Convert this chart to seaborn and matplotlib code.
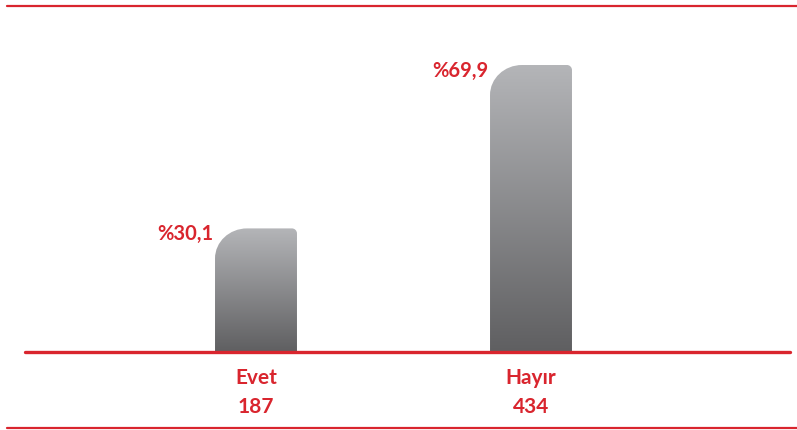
import numpy as np
import matplotlib
matplotlib.use("Agg")
import matplotlib.pyplot as plt
import seaborn as sns
from matplotlib.path import Path
from matplotlib.patches import PathPatch
from matplotlib.lines import Line2D
from matplotlib.colors import LinearSegmentedColormap

# veriler
kategoriler = ["Evet", "Hayır"]
adetler = [187, 434]
yuzdeler = [30.1, 69.9]
yuzde_etiket = ["%30,1", "%69,9"]

KIRMIZI = "#d9252e"
sns.set_style("white")
plt.rcParams["font.family"] = ["Lato", "DejaVu Sans"]

W, H, DPI = 797, 430, 100
fig = plt.figure(figsize=(W / DPI, H / DPI), dpi=DPI)
taban = 78  # piksel, alttan
ax = fig.add_axes([0, taban / H, 1, (H - taban) / H])

sns.barplot(x=kategoriler, y=yuzdeler, width=0.298, color="#888888", ax=ax)

px_x = 275.0  # bir kategori aralığı kaç piksel
px_y = 287 / 69.9
ax.set_xlim(-256 / px_x, (W - 256) / px_x)
ax.set_ylim(0, (H - taban) / px_y)
ax.axis("off")

cmap = LinearSegmentedColormap.from_list("gri", ["#5f5f61", "#b4b5b8"])
gradyan = np.linspace(0, 1, 256).reshape(-1, 1)
k = 0.5523

bars = list(ax.patches)
for i, bar in enumerate(bars):
    x0, y0 = bar.get_x(), 0
    x1, y1 = x0 + bar.get_width(), bar.get_height()
    bar.remove()
    rx1, ry1 = 32 / px_x, 30 / px_y
    rx2, ry2 = 5 / px_x, 5 / px_y
    verts = [
        (x0, y0), (x0, y1 - ry1),
        (x0, y1 - ry1 * (1 - k)), (x0 + rx1 * (1 - k), y1), (x0 + rx1, y1),
        (x1 - rx2, y1),
        (x1 - rx2 * (1 - k), y1), (x1, y1 - ry2 * (1 - k)), (x1, y1 - ry2),
        (x1, y0), (x0, y0),
    ]
    codes = [Path.MOVETO, Path.LINETO, Path.CURVE4, Path.CURVE4, Path.CURVE4,
             Path.LINETO, Path.CURVE4, Path.CURVE4, Path.CURVE4,
             Path.LINETO, Path.CLOSEPOLY]
    patch = PathPatch(Path(verts, codes), facecolor="none", edgecolor="none")
    ax.add_patch(patch)
    im = ax.imshow(gradyan, cmap=cmap, origin="lower", aspect="auto",
                   extent=[x0, x1, y0, y1], interpolation="bilinear", zorder=2)
    im.set_clip_path(patch)

    ax.annotate(yuzde_etiket[i], xy=(x0, y1), xytext=(-2, -12),
                textcoords="offset pixels", ha="right", va="baseline",
                color=KIRMIZI, fontsize=14.5, fontweight="bold")
    ax.annotate(f"{kategoriler[i]}\n{adetler[i]}", xy=((x0 + x1) / 2, 0),
                xytext=(0, -16), textcoords="offset pixels", ha="center",
                va="top", color=KIRMIZI, fontsize=15, fontweight="bold",
                linespacing=1.55, annotation_clip=False)

ax.set_xlim(-256 / px_x, (W - 256) / px_x)
ax.set_ylim(0, (H - taban) / px_y)

# kırmızı çizgiler
fig.add_artist(Line2D([7 / W, 1], [424 / H, 424 / H], color=KIRMIZI, lw=1.6))
fig.add_artist(Line2D([25 / W, 790 / W], [taban / H, taban / H], color=KIRMIZI, lw=2.4))
fig.add_artist(Line2D([7 / W, 1], [1.8 / H, 1.8 / H], color=KIRMIZI, lw=1.6))

fig.savefig("out.png", dpi=DPI)
